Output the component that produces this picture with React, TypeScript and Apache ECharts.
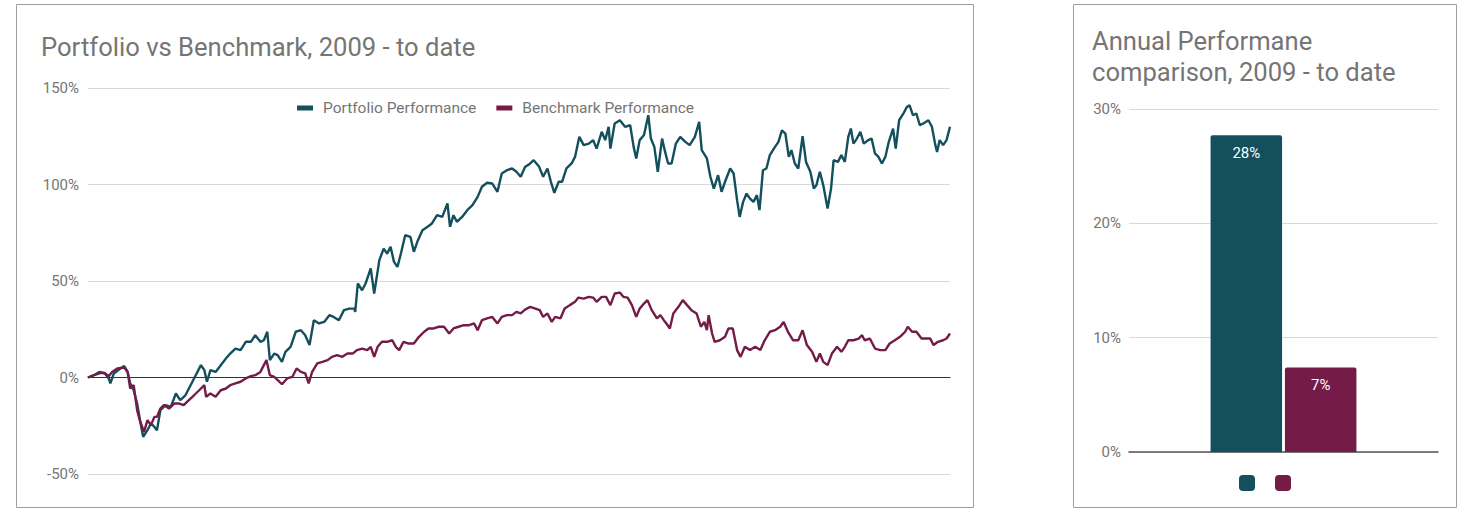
import React, { useEffect, useRef } from "react";
import * as echarts from "echarts";

// Position along the period (0 = start of 2009, 1000 = latest date) and cumulative performance in %
const portfolioPerformance: [number, number][] = [
  [0, 0], [7, 1.2], [13, 2.9], [19, 2.4], [24, -0.5], [26, -3.1], [30, 2.1], [36, 4.1], [42, 5.9], [46, 2.9],
  [49, -3.1], [53, -6.6], [57, -13.5], [61, -23.8], [64, -30.7], [69, -27.3], [73, -23.8], [77, -25.6], [80, -27.3], [84, -16.9],
  [90, -14.3], [96, -15.2], [102, -8.3], [107, -11.7], [113, -9.2], [119, -4.0], [125, 1.2], [131, 6.4], [135, 3.8], [138, -2.2],
  [142, 3.8], [148, 2.9], [154, 6.4], [160, 9.8], [165, 12.4], [171, 15.0], [177, 14.2], [183, 18.5], [189, 18.5], [194, 21.9],
  [200, 18.5], [204, 19.3], [208, 23.7], [211, 9.0], [216, 12.4], [220, 11.6], [225, 8.1], [229, 13.3], [235, 15.9], [241, 23.7],
  [247, 24.5], [252, 21.9], [257, 16.8], [262, 29.7], [268, 28.0], [274, 28.8], [280, 32.3], [285, 31.4], [291, 29.7], [297, 34.9],
  [303, 35.7], [309, 35.7], [310, 34.0], [313, 48.7], [318, 45.2], [322, 48.7], [328, 56.5], [332, 43.5], [338, 60.8], [343, 66.8],
  [347, 64.2], [351, 67.7], [355, 59.9], [359, 57.3], [363, 64.2], [368, 73.7], [374, 72.9], [378, 65.1], [382, 70.3], [388, 76.3],
  [394, 78.1], [399, 79.8], [405, 84.1], [411, 83.2], [417, 90.2], [420, 78.1], [424, 84.1], [428, 80.7], [434, 83.2], [440, 86.7],
  [446, 89.3], [452, 93.6], [457, 98.8], [463, 100.9], [469, 100.5], [475, 96.2], [480, 105.7], [486, 107.4], [492, 108.3], [497, 106.6],
  [502, 104.0], [507, 109.1], [513, 110.9], [517, 112.6], [523, 109.5], [528, 104.0], [533, 108.3], [537, 101.4], [541, 95.7], [546, 101.4],
  [550, 101.4], [555, 108.3], [561, 110.9], [565, 114.3], [570, 124.7], [575, 120.4], [581, 121.2], [586, 123.0], [590, 118.6], [596, 127.3],
  [600, 123.0], [604, 129.9], [606, 118.6], [611, 131.6], [617, 133.3], [623, 129.9], [629, 130.7], [633, 119.5], [636, 113.5], [640, 123.0],
  [645, 125.6], [650, 135.9], [653, 123.8], [657, 119.5], [661, 106.6], [666, 123.8], [669, 117.8], [673, 110.9], [677, 110.9], [682, 121.2],
  [687, 124.7], [693, 122.1], [698, 120.4], [704, 124.7], [709, 132.5], [712, 117.8], [718, 113.5], [722, 104.0], [726, 97.9], [731, 104.8],
  [735, 96.2], [739, 101.4], [745, 108.3], [749, 105.7], [753, 91.9], [756, 83.2], [760, 91.0], [764, 95.3], [768, 92.7], [772, 91.0],
  [776, 94.5], [779, 86.7], [783, 107.4], [787, 108.3], [791, 115.2], [797, 119.5], [801, 122.1], [805, 128.1], [809, 126.4], [813, 114.3],
  [816, 117.8], [820, 110.9], [824, 108.3], [829, 125.0], [833, 111.7], [838, 106.6], [842, 97.9], [845, 99.6], [849, 106.6], [853, 99.6],
  [858, 87.6], [862, 97.9], [865, 112.6], [870, 111.7], [874, 115.2], [878, 111.7], [882, 124.7], [885, 129.0], [888, 121.2], [892, 123.8],
  [896, 127.3], [900, 121.2], [905, 123.0], [909, 123.8], [913, 116.1], [917, 114.3], [921, 110.9], [925, 114.3], [929, 122.1], [934, 129.0],
  [937, 118.6], [941, 133.3], [946, 136.8], [950, 140.2], [953, 141.1], [957, 135.9], [961, 136.8], [965, 130.7], [969, 131.6], [975, 133.3],
  [979, 129.9], [983, 120.4], [985, 116.9], [988, 123.0], [992, 120.4], [996, 123.0], [1000, 129.9],
];

const benchmarkPerformance: [number, number][] = [
  [0, 0], [7, 1.2], [15, 2.4], [20, 2.1], [24, 0.7], [28, 2.9], [34, 4.7], [42, 5.2], [46, 2.9], [49, -5.7],
  [53, -4.0], [57, -16.9], [60, -22.1], [65, -28.2], [69, -22.1], [73, -24.7], [77, -20.4], [80, -20.4], [84, -16.1], [88, -14.3],
  [94, -16.1], [100, -13.5], [106, -13.5], [111, -14.3], [117, -11.7], [123, -9.2], [129, -6.6], [135, -4.0], [137, -10.0], [142, -8.3],
  [148, -10.0], [154, -6.6], [160, -5.7], [165, -4.0], [171, -3.1], [177, -2.2], [183, -0.5], [189, 0.7], [194, 1.2], [200, 2.9],
  [207, 9.0], [211, 1.2], [216, 0.3], [222, -2.2], [225, -3.5], [231, -0.5], [237, 0.3], [242, 4.7], [247, 2.9], [252, 2.1],
  [256, -3.1], [260, 2.9], [266, 7.3], [272, 8.1], [278, 9.0], [283, 10.7], [289, 11.6], [295, 10.7], [301, 12.4], [307, 12.4],
  [312, 14.2], [318, 15.0], [324, 14.2], [328, 15.9], [332, 10.7], [336, 15.9], [341, 18.5], [347, 18.5], [353, 19.3], [357, 15.9],
  [361, 14.2], [366, 18.5], [372, 17.6], [378, 17.6], [384, 21.1], [390, 23.7], [395, 25.4], [401, 25.4], [407, 26.3], [413, 26.3],
  [419, 22.8], [424, 25.4], [430, 26.3], [436, 27.1], [442, 27.1], [448, 28.0], [452, 24.5], [457, 29.7], [463, 30.6], [469, 31.4],
  [475, 28.0], [480, 31.4], [486, 32.3], [492, 32.3], [497, 34.0], [502, 33.2], [507, 35.2], [513, 36.6], [519, 35.7], [524, 34.9],
  [528, 31.4], [533, 33.2], [538, 28.8], [542, 31.4], [548, 30.6], [553, 35.7], [559, 37.5], [565, 39.2], [569, 41.4], [575, 40.9],
  [581, 41.8], [586, 41.4], [590, 39.2], [596, 41.8], [601, 41.8], [606, 37.5], [611, 43.5], [617, 44.0], [621, 41.8], [626, 41.4],
  [631, 37.5], [636, 31.4], [640, 35.7], [645, 38.3], [649, 40.1], [654, 34.9], [660, 30.6], [664, 32.3], [668, 29.7], [671, 28.0],
  [675, 25.4], [679, 33.2], [685, 36.6], [690, 40.1], [695, 37.5], [700, 34.9], [706, 33.2], [711, 26.3], [715, 28.8], [718, 24.5],
  [720, 32.3], [724, 22.8], [727, 18.5], [733, 19.3], [739, 21.1], [743, 25.4], [748, 25.4], [753, 14.2], [757, 10.7], [762, 15.9],
  [768, 14.2], [774, 15.9], [780, 14.2], [785, 19.3], [791, 23.7], [797, 24.5], [803, 26.3], [807, 28.8], [812, 23.7], [818, 19.3],
  [824, 19.3], [829, 24.5], [834, 16.8], [840, 13.3], [845, 8.1], [849, 12.4], [853, 8.1], [858, 6.4], [863, 12.4], [869, 15.9],
  [874, 13.3], [878, 15.9], [882, 19.3], [888, 19.3], [894, 20.2], [898, 21.9], [901, 19.3], [907, 20.2], [913, 15.0], [919, 14.2],
  [925, 14.2], [930, 17.6], [936, 19.3], [942, 21.1], [948, 23.7], [951, 26.3], [956, 23.7], [961, 23.7], [967, 20.2], [973, 20.2],
  [977, 20.2], [981, 16.8], [986, 18.5], [992, 19.3], [996, 20.2], [1000, 22.8],
];

const seriesNames = ["Portfolio Performance", "Benchmark Performance"];
const annualCategories = ["Annual performance"];
const annualPortfolio = [27.7];
const annualBenchmark = [7.4];

const lineTicks = { min: -50, max: 150, interval: 50 };
const barTicks = { min: 0, max: 30, interval: 10 };

const TEAL = "#134f5c";
const MAROON = "#741b47";
const GREY_TEXT = "#757575";
const FONT = "Roboto";

export default function App() {
  const ref = useRef<HTMLDivElement>(null);

  useEffect(() => {
    if (!ref.current) return;
    const chart = echarts.init(ref.current, undefined, { renderer: "svg" });
    const pct = (v: number) => `${v}%`;

    chart.setOption({
      animation: false,
      backgroundColor: "#ffffff",
      textStyle: { fontFamily: FONT },
      graphic: [
        {
          type: "rect",
          shape: { x: 16.5, y: 4.5, width: 957, height: 503 },
          style: { fill: "none", stroke: "#9e9e9e", lineWidth: 1 },
          silent: true,
        },
        {
          type: "rect",
          shape: { x: 1073.5, y: 4.5, width: 383, height: 503 },
          style: { fill: "none", stroke: "#9e9e9e", lineWidth: 1 },
          silent: true,
        },
      ],
      title: [
        {
          text: "Portfolio vs Benchmark, 2009 - to date",
          left: 41,
          top: 33.5,
          padding: 0,
          textStyle: { fontFamily: FONT, fontSize: 25.6, fontWeight: "normal", color: GREY_TEXT },
        },
        {
          text: "Annual Performane\ncomparison, 2009 - to date",
          left: 1092,
          top: 25.8,
          padding: 0,
          textStyle: { fontFamily: FONT, fontSize: 25.6, fontWeight: "normal", color: GREY_TEXT, lineHeight: 31 },
        },
      ],
      legend: [
        {
          data: seriesNames,
          left: 297,
          top: 100,
          padding: 0,
          icon: "rect",
          itemWidth: 16,
          itemHeight: 5,
          itemGap: 20,
          textStyle: { fontFamily: FONT, fontSize: 15.5, color: GREY_TEXT, padding: [0, 0, 0, 5] },
          selectedMode: false,
        },
        {
          data: seriesNames,
          left: 1239,
          top: 475,
          padding: 0,
          icon: "roundRect",
          itemWidth: 16,
          itemHeight: 16,
          itemGap: 20,
          formatter: () => "",
          selectedMode: false,
        },
      ],
      grid: [
        { left: 88, top: 88, width: 862, height: 386 },
        { left: 1129, top: 109, width: 309, height: 343 },
      ],
      xAxis: [
        {
          type: "value",
          gridIndex: 0,
          min: 0,
          max: 1000,
          axisLabel: { show: false },
          axisTick: { show: false },
          splitLine: { show: false },
          axisLine: { show: true, onZero: true, lineStyle: { color: "#333333", width: 1 } },
        },
        {
          type: "category",
          gridIndex: 1,
          data: annualCategories,
          axisLabel: { show: false },
          axisTick: { show: false },
          axisLine: { show: true, lineStyle: { color: "#555555", width: 1.5 } },
        },
      ],
      yAxis: [
        {
          type: "value",
          gridIndex: 0,
          ...lineTicks,
          axisLabel: { formatter: pct, color: GREY_TEXT, fontSize: 15, fontFamily: FONT, margin: 9 },
          axisLine: { show: false },
          axisTick: { show: false },
          splitLine: { lineStyle: { color: "#d9d9d9", width: 1 } },
        },
        {
          type: "value",
          gridIndex: 1,
          ...barTicks,
          axisLabel: { formatter: pct, color: GREY_TEXT, fontSize: 15, fontFamily: FONT, margin: 8 },
          axisLine: { show: false },
          axisTick: { show: false },
          splitLine: { lineStyle: { color: "#d9d9d9", width: 1 } },
        },
      ],
      series: [
        {
          name: seriesNames[0],
          type: "line",
          xAxisIndex: 0,
          yAxisIndex: 0,
          data: portfolioPerformance,
          showSymbol: false,
          symbol: "none",
          lineStyle: { color: TEAL, width: 2.4 },
          itemStyle: { color: TEAL },
          z: 3,
        },
        {
          name: seriesNames[1],
          type: "line",
          xAxisIndex: 0,
          yAxisIndex: 0,
          data: benchmarkPerformance,
          showSymbol: false,
          symbol: "none",
          lineStyle: { color: MAROON, width: 2.4 },
          itemStyle: { color: MAROON },
          z: 4,
        },
        {
          name: seriesNames[0],
          type: "bar",
          xAxisIndex: 1,
          yAxisIndex: 1,
          data: annualPortfolio,
          barWidth: 71.5,
          barGap: "4%",
          itemStyle: { color: TEAL, borderRadius: [2, 2, 0, 0] },
          label: {
            show: true,
            position: "insideTop",
            distance: 10,
            color: "#ffffff",
            fontSize: 15,
            fontFamily: FONT,
            formatter: (p: any) => `${Math.round(p.value)}%`,
          },
        },
        {
          name: seriesNames[1],
          type: "bar",
          xAxisIndex: 1,
          yAxisIndex: 1,
          data: annualBenchmark,
          barWidth: 71.5,
          barGap: "4%",
          itemStyle: { color: MAROON, borderRadius: [2, 2, 0, 0] },
          label: {
            show: true,
            position: "insideTop",
            distance: 10,
            color: "#ffffff",
            fontSize: 15,
            fontFamily: FONT,
            formatter: (p: any) => `${Math.round(p.value)}%`,
          },
        },
      ],
    });

    return () => chart.dispose();
  }, []);

  return (
    <div
      ref={ref}
      style={{ position: "absolute", left: 0, top: 0, width: 1464, height: 520, background: "#fff" }}
    />
  );
}
